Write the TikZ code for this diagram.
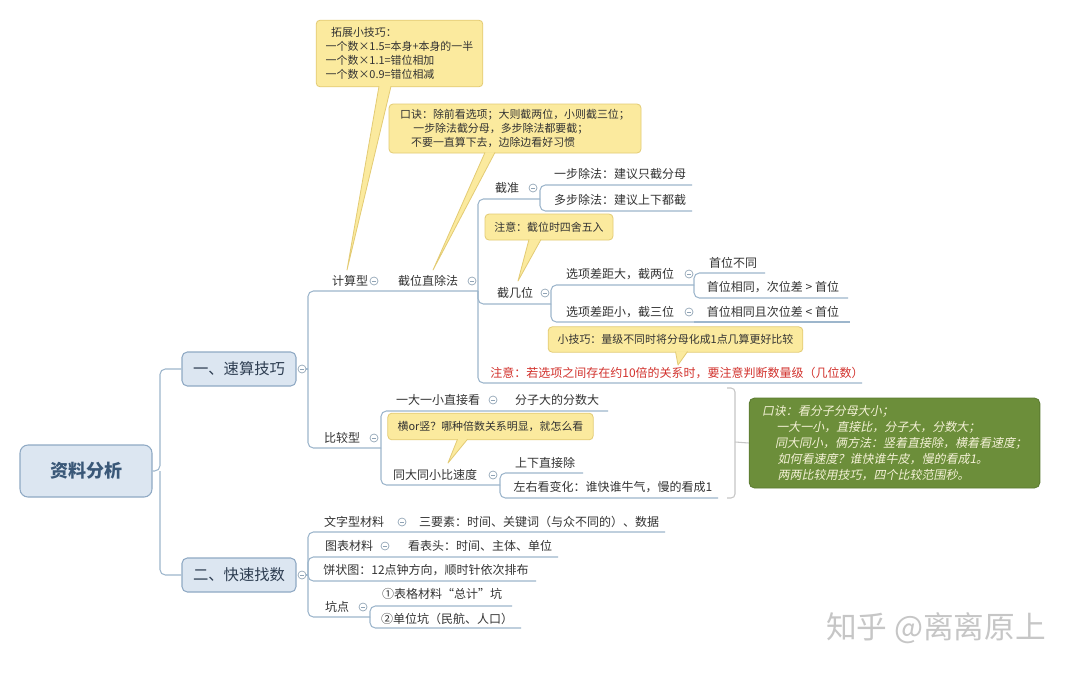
\documentclass[tikz,border=0pt]{standalone}
\usepackage{fontspec}
\setmainfont{Noto Sans CJK SC}
\newfontfamily\slantfont[FakeSlant=0.2]{Noto Sans CJK SC}
\usetikzlibrary{calc}
\definecolor{branchcol}{HTML}{9DB6CC}
\definecolor{foldcol}{HTML}{8FA3B5}
\definecolor{boxfill}{HTML}{DCE6F1}
\definecolor{boxline}{HTML}{8FA9C4}
\definecolor{boxtext}{HTML}{2E3E52}
\definecolor{roottext}{HTML}{3A5878}
\definecolor{textcol}{HTML}{333333}
\definecolor{tipfill}{HTML}{FBEA9E}
\definecolor{tipline}{HTML}{E3CB74}
\definecolor{warncol}{HTML}{D2322D}
\definecolor{greenfill}{HTML}{6C8E3A}
\definecolor{greenline}{HTML}{5A7A30}
\definecolor{greentext}{HTML}{F4F1D6}
\tikzset{
  topic/.style={font=\fontsize{9}{11}\selectfont,text=textcol,inner sep=1pt},
  mainbox/.style={draw=boxline,fill=boxfill,rounded corners=4pt,line width=0.8pt,text=boxtext,inner sep=0pt,
    minimum width=85.5pt,minimum height=25.5pt,font=\fontsize{11.5}{13}\selectfont},
  rootbox/.style={mainbox,text=roottext,minimum width=99pt,minimum height=39pt,rounded corners=6pt,
    font=\fontsize{13.5}{15}\selectfont\bfseries},
  branch/.style={draw=branchcol,line width=0.8pt,rounded corners=4pt},
  fold/.style={circle,draw=foldcol,line width=0.5pt,fill=white,minimum size=6pt,inner sep=0pt,
    path picture={\draw[foldcol,line width=0.4pt] ([xshift=-1.5pt]path picture bounding box.center) -- ([xshift=1.5pt]path picture bounding box.center);}},
  callout/.style={fill=tipfill,draw=tipline,line width=0.6pt,rounded corners=3pt,
    font=\fontsize{8.2}{10.5}\selectfont,text=textcol,align=left,inner sep=0pt},
  pointer/.style={fill=tipfill},
  pointeredge/.style={draw=tipline,line width=0.6pt,line join=round},
  bracketline/.style={draw=gray!45,line width=0.8pt,rounded corners=3pt}
}
\begin{document}
\begin{tikzpicture}[x=0.75pt,y=-0.75pt]
  \fill[white] (0,0) rectangle (1080,675);
  \useasboundingbox (0,0) rectangle (1080,675);
  % root and first level
  \node[rootbox] (root) at (86,471) {资料分析};
  \node[mainbox] (speed) at (239,369) {一、速算技巧};
  \node[mainbox] (find) at (239,575) {二、快速找数};
  \coordinate (jroot) at (160,471);
  \draw[branch] (root.east) -- (jroot) |- (speed.west);
  \draw[branch] (jroot) |- (find.west);
  \node[fold] (fspeed) at (302,369) {};
  \node[fold] (ffind) at (302,575) {};
  % 速算技巧
  \coordinate (jspeed) at (308,369);
  \coordinate (jcalc) at (385,291);
  \coordinate (jcut) at (478,291);
  \coordinate (jcmp) at (381,448);
  \draw[branch] (fspeed.east) -- (jspeed);
  \draw[branch] (jspeed) |- (jcalc) -- (jcut);
  \draw[branch] (jspeed) |- (jcmp);
  \node[topic] (calc) at (350,281) {计算型};
  \node[fold] (fcalc) at (374,281) {};
  \node[topic] (cut) at (428,281) {截位直除法};
  \node[fold] (fcut) at (472,281) {};
  % 截位直除法
  \coordinate (jzhun) at (540,199);
  \coordinate (jhow) at (551,304);
  \coordinate (ulwarn) at (862,383);
  \draw[branch] (jcut) |- (jzhun);
  \draw[branch] (jcut) |- (jhow);
  \draw[branch] (jcut) |- (ulwarn);
  \node[topic] (zhun) at (507,188) {截准};
  \node[fold] (fzhun) at (533,188) {};
  \coordinate (ulstep1) at (692,185);
  \coordinate (ulstep2) at (692,211);
  \draw[branch] (jzhun) |- (ulstep1);
  \draw[branch] (jzhun) |- (ulstep2);
  \node[topic] (step1) at (620,174) {一步除法：建议只截分母};
  \node[topic] (step2) at (620,200) {多步除法：建议上下都截};
  \node[topic] (how) at (515,293) {截几位};
  \node[fold] (fhow) at (545,293) {};
  \coordinate (jbig) at (694,285);
  \coordinate (jsmall) at (694,322);
  \draw[branch] (jhow) |- (jbig);
  \draw[branch] (jhow) |- (jsmall);
  \node[topic] (big) at (620,274) {选项差距大，截两位};
  \node[fold] (fbig) at (689,274) {};
  \node[topic] (small) at (620,312) {选项差距小，截三位};
  \node[fold] (fsmall) at (689,312) {};
  \coordinate (uldiff) at (765,273);
  \coordinate (ulsame) at (848,298);
  \coordinate (ulsecond) at (850,322);
  \draw[branch] (jbig) |- (uldiff);
  \draw[branch] (jbig) |- (ulsame);
  \draw[branch] (jsmall) -- (ulsecond);
  \node[topic] (diff) at (733,263) {首位不同};
  \node[topic] (same) at (773,287) {首位相同，次位差 > 首位};
  \node[topic] (second) at (773,312) {首位相同且次位差 < 首位};
  \node[topic,text=warncol] (warn) at (677,373) {注意：若选项之间存在约10倍的关系时，要注意判断数量级（几位数）};
  % 比较型
  \node[topic] (cmp) at (342,438) {比较型};
  \node[fold] (fcmp) at (374,438) {};
  \coordinate (jone) at (500,411);
  \coordinate (ulfrac) at (608,411);
  \coordinate (jsame) at (500,485);
  \draw[branch] (jcmp) |- (jone) -- (ulfrac);
  \draw[branch] (jcmp) |- (jsame);
  \node[topic] (one) at (438,400) {一大一小直接看};
  \node[fold] (fone) at (493,400) {};
  \node[topic] (frac) at (557,400) {分子大的分数大};
  \node[topic] (samesize) at (435,475) {同大同小比速度};
  \node[fold] (fsamesize) at (493,475) {};
  \coordinate (uldown) at (583,473);
  \coordinate (ulside) at (718,498);
  \draw[branch] (jsame) |- (uldown);
  \draw[branch] (jsame) |- (ulside);
  \node[topic] (down) at (545,463) {上下直接除};
  \node[topic] (side) at (613,487) {左右看变化：谁快谁牛气，慢的看成1};
  % summary
  \node[fill=greenfill,draw=greenline,line width=0.6pt,rounded corners=4pt,minimum width=218pt,minimum height=67.5pt,
    inner sep=0pt,align=left,text=greentext,font=\slantfont\fontsize{9}{12}\selectfont] (rule) at (894.5,443)
    {口诀：看分子分母大小；\\
     \hspace*{1.2em}一大一小，直接比，分子大，分数大；\\
     \hspace*{1.1em}同大同小，俩方法：竖着直接除，横着看速度；\\
     \hspace*{1.3em}如何看速度？谁快谁牛皮，慢的看成1。\\
     \hspace*{1.3em}两两比较用技巧，四个比较范围秒。};
  \coordinate (brtop) at (727,388);
  \coordinate (brbot) at (727,498);
  \coordinate (brmid) at (735,442);
  \draw[bracketline] (brtop) -| (brmid) |- (brbot);
  \draw[bracketline] (brmid) -- (rule.west);
  % 快速找数
  \coordinate (jfind) at (308,575);
  \coordinate (jword) at (412,532);
  \coordinate (ulthree) at (665,532);
  \coordinate (jchart) at (395,557);
  \coordinate (ulhead) at (558,557);
  \coordinate (ulpie) at (536,581);
  \coordinate (jpit) at (370,617);
  \draw[branch] (ffind.east) -- (jfind);
  \draw[branch] (jfind) |- (jword) -- (ulthree);
  \draw[branch] (jfind) |- (jchart) -- (ulhead);
  \draw[branch] (jfind) |- (ulpie);
  \draw[branch] (jfind) |- (jpit);
  \node[topic] (word) at (354,522) {文字型材料};
  \node[fold] (fword) at (402,522) {};
  \node[topic] (three) at (539,522) {三要素：时间、关键词（与众不同的）、数据};
  \node[topic] (chart) at (349,546) {图表材料};
  \node[fold] (fchart) at (385,546) {};
  \node[topic] (head) at (480,546) {看表头：时间、主体、单位};
  \node[topic] (pie) at (426,570) {饼状图：12点钟方向，顺时针依次排布};
  \node[topic] (pit) at (337,607) {坑点};
  \node[fold] (fpit) at (363,607) {};
  \coordinate (ultotal) at (512,606);
  \coordinate (ulunit) at (521,628);
  \draw[branch] (jpit) |- (ultotal);
  \draw[branch] (jpit) |- (ulunit);
  \node[topic] (total) at (442,594) {①表格材料“总计”坑};
  \node[topic] (unit) at (447,619) {②单位坑（民航、人口）};
  % callouts
  \node[callout,minimum width=125pt,minimum height=50pt] (tipA) at (399.5,53.5)
    {\hspace*{0.5em}拓展小技巧：\\一个数×1.5=本身+本身的一半\\一个数×1.1=错位相加\\一个数×0.9=错位相减};
  \coordinate (ptA) at (347,270);
  \path[pointer] ($(tipA.south)+(-20.5,-1)$) -- (ptA) -- ($(tipA.south)+(-8.5,-1)$) -- cycle;
  \draw[pointeredge] ($(tipA.south)+(-20.5,-1)$) -- (ptA) -- ($(tipA.south)+(-8.5,-1)$);
  \node[callout,minimum width=189pt,minimum height=36.75pt] (tipB) at (515,128.5)
    {口诀：除前看选项；大则截两位，小则截三位；\\
     \hspace*{1.2em}一步除法截分母，多步除法都要截；\\
     \hspace*{1em}不要一直算下去，边除边看好习惯};
  \coordinate (ptB) at (433,270);
  \path[pointer] ($(tipB.south)+(-30,-1)$) -- (ptB) -- ($(tipB.south)+(-20,-1)$) -- cycle;
  \draw[pointeredge] ($(tipB.south)+(-30,-1)$) -- (ptB) -- ($(tipB.south)+(-20,-1)$);
  \node[callout,minimum width=96pt,minimum height=19.5pt] (tipC) at (549,227) {注意：截位时四舍五入};
  \coordinate (ptC) at (518,281);
  \path[pointer] ($(tipC.south)+(-20,-1)$) -- (ptC) -- ($(tipC.south)+(-8,-1)$) -- cycle;
  \draw[pointeredge] ($(tipC.south)+(-20,-1)$) -- (ptC) -- ($(tipC.south)+(-8,-1)$);
  \node[callout,minimum width=191pt,minimum height=19pt] (tipD) at (675.5,339.5) {小技巧：量级不同时将分母化成1点几算更好比较};
  \coordinate (ptD) at (678,365);
  \path[pointer] ($(tipD.south)+(0,-1)$) -- (ptD) -- ($(tipD.south)+(12,-1)$) -- cycle;
  \draw[pointeredge] ($(tipD.south)+(0,-1)$) -- (ptD) -- ($(tipD.south)+(12,-1)$);
  \node[callout,minimum width=154pt,minimum height=20pt] (tipE) at (490.5,426.5) {横or竖？哪种倍数关系明显，就怎么看};
  \coordinate (ptE) at (448,463);
  \path[pointer] ($(tipE.south)+(-33,-1)$) -- (ptE) -- ($(tipE.south)+(-23,-1)$) -- cycle;
  \draw[pointeredge] ($(tipE.south)+(-33,-1)$) -- (ptE) -- ($(tipE.south)+(-23,-1)$);
  % watermark
  \node[text=gray!45,font=\fontsize{23}{25}\selectfont] (mark) at (936,628) {知乎 @离离原上};
\end{tikzpicture}
\end{document}
